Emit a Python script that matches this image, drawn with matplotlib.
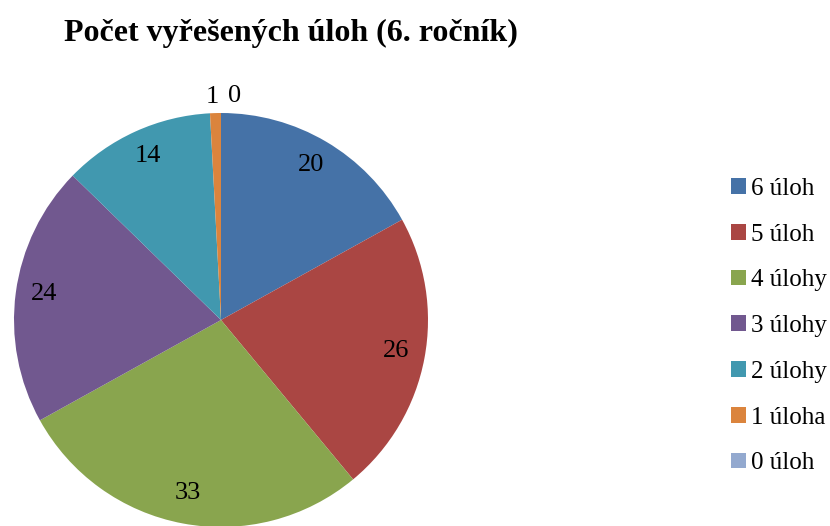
import numpy as np
import matplotlib
matplotlib.use("Agg")
import matplotlib.pyplot as plt
from matplotlib.patches import Patch

categories = ["6 úloh", "5 úloh", "4 úlohy", "3 úlohy", "2 úlohy", "1 úloha", "0 úloh"]
counts = [20, 26, 33, 24, 14, 1, 0]
colors = ["#4572A7", "#AA4643", "#89A54E", "#71588F", "#4198AF", "#DB843D", "#93A9CF"]
title = "Počet vyřešených úloh (6. ročník)"

plt.rcParams["font.family"] = ["Liberation Serif", "DejaVu Serif"]

fig = plt.figure(figsize=(8.30, 5.26), dpi=100)
fig.text(0.351, 0.937, title, fontsize=23, fontweight="bold",
         ha="center", va="center")

# pie axes: centre ~ (221, 320) px, radius ~ 207 px
cx, cy, r = 221, 320, 207
ax = fig.add_axes([(cx - r) / 830, (526 - cy - r) / 526, 2 * r / 830, 2 * r / 526])

wedges, _ = ax.pie(counts, colors=colors, startangle=90, counterclock=False,
                   radius=1.0, wedgeprops=dict(linewidth=0))
ax.set_xlim(-1, 1)
ax.set_ylim(-1, 1)
ax.set_aspect("equal")
ax.axis("off")

total = sum(counts)
cum = 0.0
for val in counts:
    mid = cum + val / 2.0
    cum += val
    ang = np.deg2rad(90 - 360 * mid / total)
    if val >= 5:
        d = 0.86
        ax.text(d * np.cos(ang), d * np.sin(ang) + 0.01, str(val), fontsize=19,
                ha="center", va="center")
    else:
        d = 1.08
        dx = -0.015 if val > 0 else 0.065
        ax.text(d * np.cos(ang) + dx, d * np.sin(ang), str(val), fontsize=19,
                ha="center", va="center")

handles = [Patch(facecolor=c, edgecolor="none") for c in colors]
fig.legend(handles, categories, loc="center left", bbox_to_anchor=(0.881, 0.38),
           frameon=False, fontsize=18, handlelength=0.6, handleheight=0.6,
           handletextpad=0.2, labelspacing=0.95, borderpad=0, borderaxespad=0)

fig.savefig("out.png", dpi=100)
